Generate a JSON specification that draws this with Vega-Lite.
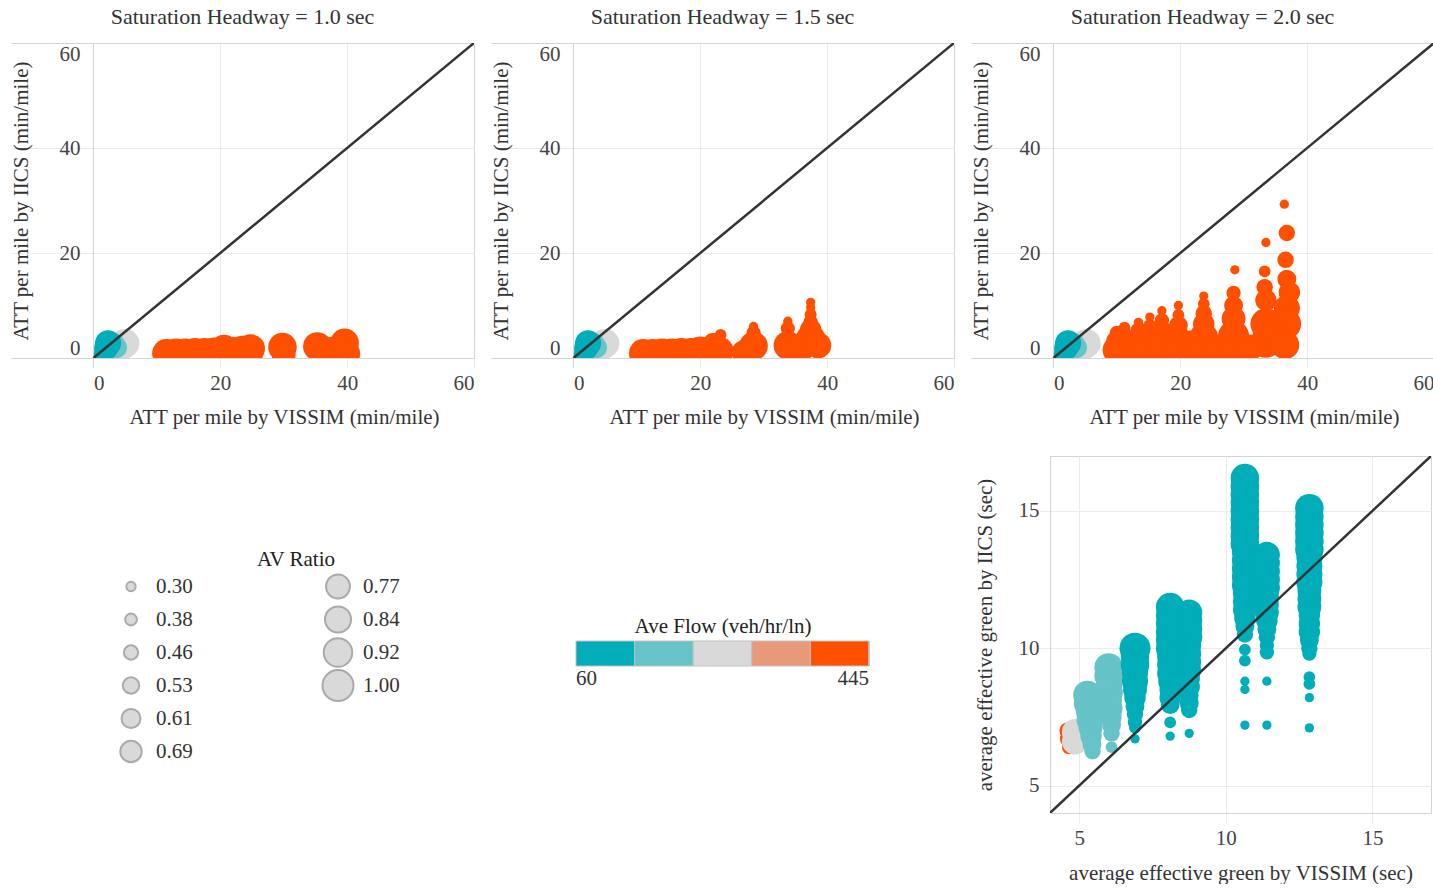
{
"$schema": "https://vega.github.io/schema/vega-lite/v6.json",
"padding": {"left": 10, "top": 6, "right": 4, "bottom": 0},
"background": "white",
"datasets": {
"att": [
{"h":"1.0","vissim":4.6,"iics":2.2,"av":0.84,"flow":250},
{"h":"1.0","vissim":5.0,"iics":2.8,"av":0.92,"flow":250},
{"h":"1.0","vissim":3.1,"iics":2.5,"av":0.77,"flow":170},
{"h":"1.0","vissim":3.6,"iics":2.0,"av":0.69,"flow":170},
{"h":"1.0","vissim":2.3,"iics":2.8,"av":0.84,"flow":100},
{"h":"1.0","vissim":2.0,"iics":1.9,"av":0.77,"flow":100},
{"h":"1.0","vissim":1.6,"iics":1.1,"av":0.61,"flow":100},
{"h":"1.0","vissim":1.2,"iics":0.6,"av":0.46,"flow":100},
{"h":"1.0","vissim":11.5,"iics":0.9,"av":0.92,"flow":420},
{"h":"1.0","vissim":13.0,"iics":1.0,"av":0.92,"flow":420},
{"h":"1.0","vissim":14.5,"iics":1.0,"av":0.92,"flow":420},
{"h":"1.0","vissim":16.0,"iics":1.1,"av":0.92,"flow":420},
{"h":"1.0","vissim":17.5,"iics":1.1,"av":0.92,"flow":420},
{"h":"1.0","vissim":19.0,"iics":1.2,"av":0.92,"flow":420},
{"h":"1.0","vissim":20.6,"iics":1.7,"av":0.92,"flow":420},
{"h":"1.0","vissim":22.0,"iics":1.3,"av":0.92,"flow":420},
{"h":"1.0","vissim":23.5,"iics":1.5,"av":0.92,"flow":420},
{"h":"1.0","vissim":24.8,"iics":1.8,"av":0.92,"flow":420},
{"h":"1.0","vissim":29.8,"iics":2.1,"av":0.92,"flow":420},
{"h":"1.0","vissim":35.3,"iics":2.2,"av":0.92,"flow":420},
{"h":"1.0","vissim":37.5,"iics":1.5,"av":0.84,"flow":420},
{"h":"1.0","vissim":39.6,"iics":2.9,"av":0.92,"flow":420},
{"h":"1.0","vissim":12.0,"iics":0.3,"av":0.61,"flow":420},
{"h":"1.0","vissim":18.0,"iics":0.4,"av":0.69,"flow":420},
{"h":"1.0","vissim":25.0,"iics":0.5,"av":0.69,"flow":420},
{"h":"1.0","vissim":30.0,"iics":0.6,"av":0.77,"flow":420},
{"h":"1.0","vissim":36.0,"iics":0.6,"av":0.77,"flow":420},
{"h":"1.0","vissim":40.0,"iics":0.8,"av":0.84,"flow":420},
{"h":"1.5","vissim":4.6,"iics":2.2,"av":0.84,"flow":250},
{"h":"1.5","vissim":5.0,"iics":2.8,"av":0.92,"flow":250},
{"h":"1.5","vissim":3.1,"iics":2.5,"av":0.77,"flow":170},
{"h":"1.5","vissim":3.6,"iics":2.0,"av":0.69,"flow":170},
{"h":"1.5","vissim":2.3,"iics":2.8,"av":0.84,"flow":100},
{"h":"1.5","vissim":2.0,"iics":1.9,"av":0.77,"flow":100},
{"h":"1.5","vissim":1.6,"iics":1.1,"av":0.61,"flow":100},
{"h":"1.5","vissim":1.2,"iics":0.6,"av":0.46,"flow":100},
{"h":"1.5","vissim":11.0,"iics":0.9,"av":0.92,"flow":420},
{"h":"1.5","vissim":12.5,"iics":0.9,"av":0.92,"flow":420},
{"h":"1.5","vissim":14.0,"iics":1.0,"av":0.92,"flow":420},
{"h":"1.5","vissim":15.5,"iics":1.0,"av":0.92,"flow":420},
{"h":"1.5","vissim":17.0,"iics":1.1,"av":0.92,"flow":420},
{"h":"1.5","vissim":18.5,"iics":1.1,"av":0.92,"flow":420},
{"h":"1.5","vissim":20.0,"iics":1.4,"av":0.92,"flow":420},
{"h":"1.5","vissim":21.5,"iics":1.2,"av":0.92,"flow":420},
{"h":"1.5","vissim":23.0,"iics":1.3,"av":0.92,"flow":420},
{"h":"1.5","vissim":23.2,"iics":4.4,"av":0.38,"flow":420},
{"h":"1.5","vissim":22.0,"iics":3.0,"av":0.61,"flow":420},
{"h":"1.5","vissim":28.4,"iics":6.0,"av":0.3,"flow":420},
{"h":"1.5","vissim":28.4,"iics":4.8,"av":0.46,"flow":420},
{"h":"1.5","vissim":28.4,"iics":2.3,"av":0.92,"flow":420},
{"h":"1.5","vissim":27.0,"iics":1.0,"av":0.84,"flow":420},
{"h":"1.5","vissim":33.8,"iics":7.0,"av":0.3,"flow":420},
{"h":"1.5","vissim":33.8,"iics":5.6,"av":0.46,"flow":420},
{"h":"1.5","vissim":33.8,"iics":2.4,"av":0.92,"flow":420},
{"h":"1.5","vissim":37.4,"iics":10.6,"av":0.3,"flow":420},
{"h":"1.5","vissim":37.4,"iics":9.6,"av":0.3,"flow":420},
{"h":"1.5","vissim":37.4,"iics":8.3,"av":0.38,"flow":420},
{"h":"1.5","vissim":37.4,"iics":6.9,"av":0.46,"flow":420},
{"h":"1.5","vissim":37.4,"iics":5.4,"av":0.69,"flow":420},
{"h":"1.5","vissim":37.4,"iics":3.8,"av":0.92,"flow":420},
{"h":"1.5","vissim":35.8,"iics":2.0,"av":0.92,"flow":420},
{"h":"1.5","vissim":38.6,"iics":2.4,"av":0.84,"flow":420},
{"h":"2.0","vissim":4.8,"iics":2.2,"av":0.84,"flow":250},
{"h":"2.0","vissim":5.2,"iics":2.8,"av":0.92,"flow":250},
{"h":"2.0","vissim":3.1,"iics":2.5,"av":0.77,"flow":170},
{"h":"2.0","vissim":3.6,"iics":2.0,"av":0.69,"flow":170},
{"h":"2.0","vissim":2.3,"iics":2.8,"av":0.84,"flow":100},
{"h":"2.0","vissim":2.0,"iics":1.9,"av":0.77,"flow":100},
{"h":"2.0","vissim":1.6,"iics":1.1,"av":0.61,"flow":100},
{"h":"2.0","vissim":1.2,"iics":0.6,"av":0.46,"flow":100},
{"h":"2.0","vissim":10.0,"iics":4.8,"av":0.46,"flow":420},
{"h":"2.0","vissim":10.0,"iics":3.2,"av":0.69,"flow":420},
{"h":"2.0","vissim":10.0,"iics":1.5,"av":0.92,"flow":420},
{"h":"2.0","vissim":11.2,"iics":5.8,"av":0.38,"flow":420},
{"h":"2.0","vissim":11.2,"iics":4.0,"av":0.61,"flow":420},
{"h":"2.0","vissim":11.2,"iics":2.0,"av":0.92,"flow":420},
{"h":"2.0","vissim":13.4,"iics":6.8,"av":0.3,"flow":420},
{"h":"2.0","vissim":13.4,"iics":5.2,"av":0.53,"flow":420},
{"h":"2.0","vissim":13.4,"iics":3.2,"av":0.77,"flow":420},
{"h":"2.0","vissim":13.4,"iics":1.5,"av":0.92,"flow":420},
{"h":"2.0","vissim":15.2,"iics":7.8,"av":0.3,"flow":420},
{"h":"2.0","vissim":15.2,"iics":6.0,"av":0.46,"flow":420},
{"h":"2.0","vissim":15.2,"iics":4.0,"av":0.69,"flow":420},
{"h":"2.0","vissim":15.2,"iics":2.0,"av":0.92,"flow":420},
{"h":"2.0","vissim":17.1,"iics":9.0,"av":0.3,"flow":420},
{"h":"2.0","vissim":17.1,"iics":7.2,"av":0.46,"flow":420},
{"h":"2.0","vissim":17.1,"iics":5.0,"av":0.69,"flow":420},
{"h":"2.0","vissim":17.1,"iics":2.5,"av":0.92,"flow":420},
{"h":"2.0","vissim":19.7,"iics":10.0,"av":0.3,"flow":420},
{"h":"2.0","vissim":19.7,"iics":8.2,"av":0.38,"flow":420},
{"h":"2.0","vissim":19.7,"iics":6.2,"av":0.61,"flow":420},
{"h":"2.0","vissim":19.7,"iics":3.5,"av":0.84,"flow":420},
{"h":"2.0","vissim":19.7,"iics":1.5,"av":0.92,"flow":420},
{"h":"2.0","vissim":21.7,"iics":2.5,"av":0.92,"flow":420},
{"h":"2.0","vissim":23.7,"iics":11.8,"av":0.3,"flow":420},
{"h":"2.0","vissim":23.7,"iics":10.3,"av":0.38,"flow":420},
{"h":"2.0","vissim":23.7,"iics":8.5,"av":0.53,"flow":420},
{"h":"2.0","vissim":23.7,"iics":6.5,"av":0.69,"flow":420},
{"h":"2.0","vissim":23.7,"iics":4.0,"av":0.92,"flow":420},
{"h":"2.0","vissim":23.7,"iics":1.5,"av":0.92,"flow":420},
{"h":"2.0","vissim":26.0,"iics":2.0,"av":0.84,"flow":420},
{"h":"2.0","vissim":28.6,"iics":16.8,"av":0.3,"flow":420},
{"h":"2.0","vissim":28.4,"iics":12.4,"av":0.46,"flow":420},
{"h":"2.0","vissim":28.4,"iics":10.0,"av":0.61,"flow":420},
{"h":"2.0","vissim":28.4,"iics":7.5,"av":0.77,"flow":420},
{"h":"2.0","vissim":28.4,"iics":4.2,"av":1.0,"flow":420},
{"h":"2.0","vissim":28.4,"iics":1.5,"av":0.92,"flow":420},
{"h":"2.0","vissim":31.0,"iics":2.0,"av":0.84,"flow":420},
{"h":"2.0","vissim":33.5,"iics":22.0,"av":0.3,"flow":420},
{"h":"2.0","vissim":33.3,"iics":16.5,"av":0.38,"flow":420},
{"h":"2.0","vissim":33.3,"iics":13.5,"av":0.53,"flow":420},
{"h":"2.0","vissim":33.5,"iics":11.0,"av":0.69,"flow":420},
{"h":"2.0","vissim":33.5,"iics":6.5,"av":1.0,"flow":420},
{"h":"2.0","vissim":33.5,"iics":3.0,"av":1.0,"flow":420},
{"h":"2.0","vissim":36.4,"iics":29.3,"av":0.3,"flow":420},
{"h":"2.0","vissim":36.8,"iics":23.8,"av":0.53,"flow":420},
{"h":"2.0","vissim":36.6,"iics":18.7,"av":0.53,"flow":420},
{"h":"2.0","vissim":36.8,"iics":15.0,"av":0.61,"flow":420},
{"h":"2.0","vissim":37.2,"iics":12.5,"av":0.69,"flow":420},
{"h":"2.0","vissim":36.8,"iics":9.5,"av":0.84,"flow":420},
{"h":"2.0","vissim":36.6,"iics":6.5,"av":1.0,"flow":420},
{"h":"2.0","vissim":35.0,"iics":4.0,"av":1.0,"flow":420},
{"h":"2.0","vissim":36.5,"iics":2.5,"av":0.92,"flow":420}
],
"green": [
{"vissim":4.6,"iics":7.0,"av":0.53,"flow":420},
{"vissim":4.62,"iics":6.7,"av":0.53,"flow":420},
{"vissim":4.65,"iics":6.4,"av":0.46,"flow":420},
{"vissim":4.85,"iics":6.95,"av":0.84,"flow":250},
{"vissim":4.85,"iics":6.6,"av":0.84,"flow":250},
{"vissim":4.9,"iics":6.8,"av":0.77,"flow":250},
{"vissim":5.28,"iics":8.3,"av":0.92,"flow":170},
{"vissim":5.3,"iics":8.0,"av":0.92,"flow":170},
{"vissim":5.33,"iics":7.7,"av":0.84,"flow":170},
{"vissim":5.35,"iics":7.4,"av":0.84,"flow":170},
{"vissim":5.38,"iics":7.1,"av":0.77,"flow":170},
{"vissim":5.4,"iics":6.8,"av":0.69,"flow":170},
{"vissim":5.43,"iics":6.5,"av":0.61,"flow":170},
{"vissim":5.45,"iics":6.25,"av":0.53,"flow":170},
{"vissim":6.0,"iics":9.3,"av":0.92,"flow":170},
{"vissim":6.0,"iics":9.0,"av":0.92,"flow":170},
{"vissim":6.02,"iics":8.7,"av":0.84,"flow":170},
{"vissim":6.04,"iics":8.4,"av":0.84,"flow":170},
{"vissim":6.05,"iics":8.1,"av":0.77,"flow":170},
{"vissim":6.07,"iics":7.8,"av":0.77,"flow":170},
{"vissim":6.08,"iics":7.5,"av":0.69,"flow":170},
{"vissim":6.1,"iics":7.2,"av":0.61,"flow":170},
{"vissim":6.1,"iics":6.9,"av":0.53,"flow":170},
{"vissim":6.1,"iics":6.4,"av":0.38,"flow":170},
{"vissim":6.9,"iics":10.0,"av":1.0,"flow":100},
{"vissim":6.9,"iics":9.7,"av":0.92,"flow":100},
{"vissim":6.9,"iics":9.4,"av":0.92,"flow":100},
{"vissim":6.9,"iics":9.1,"av":0.84,"flow":100},
{"vissim":6.9,"iics":8.8,"av":0.84,"flow":100},
{"vissim":6.9,"iics":8.5,"av":0.77,"flow":100},
{"vissim":6.9,"iics":8.2,"av":0.69,"flow":100},
{"vissim":6.9,"iics":7.9,"av":0.61,"flow":100},
{"vissim":6.9,"iics":7.6,"av":0.53,"flow":100},
{"vissim":6.9,"iics":7.3,"av":0.46,"flow":100},
{"vissim":6.9,"iics":7.1,"av":0.38,"flow":100},
{"vissim":6.9,"iics":6.7,"av":0.3,"flow":100},
{"vissim":8.1,"iics":11.5,"av":0.92,"flow":100},
{"vissim":8.1,"iics":11.2,"av":0.92,"flow":100},
{"vissim":8.1,"iics":10.9,"av":0.92,"flow":100},
{"vissim":8.1,"iics":10.6,"av":0.92,"flow":100},
{"vissim":8.1,"iics":10.3,"av":0.92,"flow":100},
{"vissim":8.1,"iics":10.0,"av":0.92,"flow":100},
{"vissim":8.1,"iics":9.7,"av":0.84,"flow":100},
{"vissim":8.1,"iics":9.4,"av":0.84,"flow":100},
{"vissim":8.1,"iics":9.1,"av":0.84,"flow":100},
{"vissim":8.1,"iics":8.8,"av":0.77,"flow":100},
{"vissim":8.1,"iics":8.5,"av":0.69,"flow":100},
{"vissim":8.1,"iics":8.2,"av":0.69,"flow":100},
{"vissim":8.1,"iics":7.95,"av":0.61,"flow":100},
{"vissim":8.1,"iics":7.3,"av":0.38,"flow":100},
{"vissim":8.1,"iics":6.8,"av":0.3,"flow":100},
{"vissim":8.75,"iics":11.3,"av":0.84,"flow":100},
{"vissim":8.75,"iics":11.0,"av":0.84,"flow":100},
{"vissim":8.75,"iics":10.7,"av":0.84,"flow":100},
{"vissim":8.75,"iics":10.4,"av":0.84,"flow":100},
{"vissim":8.75,"iics":10.1,"av":0.77,"flow":100},
{"vissim":8.75,"iics":9.8,"av":0.77,"flow":100},
{"vissim":8.75,"iics":9.5,"av":0.77,"flow":100},
{"vissim":8.75,"iics":9.2,"av":0.77,"flow":100},
{"vissim":8.75,"iics":8.9,"av":0.69,"flow":100},
{"vissim":8.75,"iics":8.6,"av":0.69,"flow":100},
{"vissim":8.75,"iics":8.3,"av":0.61,"flow":100},
{"vissim":8.75,"iics":8.0,"av":0.61,"flow":100},
{"vissim":8.75,"iics":7.75,"av":0.53,"flow":100},
{"vissim":8.75,"iics":6.9,"av":0.3,"flow":100},
{"vissim":10.65,"iics":16.2,"av":0.92,"flow":100},
{"vissim":10.65,"iics":15.9,"av":0.92,"flow":100},
{"vissim":10.65,"iics":15.6,"av":0.92,"flow":100},
{"vissim":10.65,"iics":15.3,"av":0.92,"flow":100},
{"vissim":10.65,"iics":15.0,"av":0.92,"flow":100},
{"vissim":10.65,"iics":14.7,"av":0.92,"flow":100},
{"vissim":10.65,"iics":14.4,"av":0.92,"flow":100},
{"vissim":10.65,"iics":14.1,"av":0.92,"flow":100},
{"vissim":10.65,"iics":13.8,"av":0.92,"flow":100},
{"vissim":10.65,"iics":13.5,"av":0.84,"flow":100},
{"vissim":10.65,"iics":13.2,"av":0.84,"flow":100},
{"vissim":10.65,"iics":12.9,"av":0.84,"flow":100},
{"vissim":10.65,"iics":12.6,"av":0.84,"flow":100},
{"vissim":10.65,"iics":12.3,"av":0.84,"flow":100},
{"vissim":10.65,"iics":12.0,"av":0.77,"flow":100},
{"vissim":10.65,"iics":11.7,"av":0.77,"flow":100},
{"vissim":10.65,"iics":11.4,"av":0.77,"flow":100},
{"vissim":10.65,"iics":11.1,"av":0.69,"flow":100},
{"vissim":10.65,"iics":10.8,"av":0.61,"flow":100},
{"vissim":10.65,"iics":10.5,"av":0.53,"flow":100},
{"vissim":10.65,"iics":9.95,"av":0.38,"flow":100},
{"vissim":10.65,"iics":9.55,"av":0.38,"flow":100},
{"vissim":10.65,"iics":8.8,"av":0.3,"flow":100},
{"vissim":10.65,"iics":8.5,"av":0.3,"flow":100},
{"vissim":10.65,"iics":7.2,"av":0.3,"flow":100},
{"vissim":11.4,"iics":13.4,"av":0.84,"flow":100},
{"vissim":11.4,"iics":13.1,"av":0.84,"flow":100},
{"vissim":11.4,"iics":12.8,"av":0.84,"flow":100},
{"vissim":11.4,"iics":12.5,"av":0.84,"flow":100},
{"vissim":11.4,"iics":12.2,"av":0.84,"flow":100},
{"vissim":11.4,"iics":11.9,"av":0.77,"flow":100},
{"vissim":11.4,"iics":11.6,"av":0.77,"flow":100},
{"vissim":11.4,"iics":11.3,"av":0.77,"flow":100},
{"vissim":11.4,"iics":11.0,"av":0.69,"flow":100},
{"vissim":11.4,"iics":10.7,"av":0.61,"flow":100},
{"vissim":11.4,"iics":10.4,"av":0.53,"flow":100},
{"vissim":11.4,"iics":10.1,"av":0.46,"flow":100},
{"vissim":11.4,"iics":9.85,"av":0.46,"flow":100},
{"vissim":11.4,"iics":8.8,"av":0.3,"flow":100},
{"vissim":11.4,"iics":7.2,"av":0.3,"flow":100},
{"vissim":12.85,"iics":15.1,"av":0.92,"flow":100},
{"vissim":12.85,"iics":14.8,"av":0.92,"flow":100},
{"vissim":12.85,"iics":14.5,"av":0.92,"flow":100},
{"vissim":12.85,"iics":14.2,"av":0.92,"flow":100},
{"vissim":12.85,"iics":13.9,"av":0.92,"flow":100},
{"vissim":12.85,"iics":13.6,"av":0.92,"flow":100},
{"vissim":12.85,"iics":13.3,"av":0.84,"flow":100},
{"vissim":12.85,"iics":13.0,"av":0.84,"flow":100},
{"vissim":12.85,"iics":12.7,"av":0.84,"flow":100},
{"vissim":12.85,"iics":12.4,"av":0.84,"flow":100},
{"vissim":12.85,"iics":12.1,"av":0.77,"flow":100},
{"vissim":12.85,"iics":11.8,"av":0.77,"flow":100},
{"vissim":12.85,"iics":11.5,"av":0.77,"flow":100},
{"vissim":12.85,"iics":11.2,"av":0.69,"flow":100},
{"vissim":12.85,"iics":10.9,"av":0.69,"flow":100},
{"vissim":12.85,"iics":10.6,"av":0.69,"flow":100},
{"vissim":12.85,"iics":10.3,"av":0.61,"flow":100},
{"vissim":12.85,"iics":10.0,"av":0.53,"flow":100},
{"vissim":12.85,"iics":9.8,"av":0.46,"flow":100},
{"vissim":12.85,"iics":8.95,"av":0.38,"flow":100},
{"vissim":12.85,"iics":8.7,"av":0.38,"flow":100},
{"vissim":12.85,"iics":8.2,"av":0.3,"flow":100},
{"vissim":12.85,"iics":7.1,"av":0.3,"flow":100}
],
"d1": [{"vissim":0,"iics":0},{"vissim":60,"iics":60}],
"d2": [{"vissim":4,"iics":4},{"vissim":17,"iics":17}]
},
"vconcat": [
{"hconcat": [
{"width": 463, "height": 315, "title": {"text": "Saturation Headway = 1.0 sec", "offset": 14},
 "layer": [
 {"data": {"name": "att"}, "transform": [{"filter": "datum.h == '1.0'"}],
  "mark": {"type": "circle", "opacity": 1, "clip": true},
  "encoding": {
   "x": {"field": "vissim", "type": "quantitative", "scale": {"domain": [-13, 60], "nice": false, "zero": false},
    "axis": {"title": "ATT per mile by VISSIM (min/mile)", "values": [0,20,40,60], "grid": true, "gridColor": {"condition": {"test": "datum.value == 60", "value": "#d4d4d4"}, "value": "#ebebeb"}, "tickSize": 10, "tickColor": {"condition": {"test": "datum.value == 0", "value": "#d4d4d4"}, "value": "#ebebeb"}, "labelPadding": 4, "labelFlush": 90, "titlePadding": 13, "titleX": 273}},
   "y": {"field": "iics", "type": "quantitative", "scale": {"domain": [0, 60], "nice": false, "zero": false},
    "axis": {"title": "ATT per mile by IICS (min/mile)", "values": [0,20,40,60], "grid": true, "gridColor": {"condition": {"test": "datum.value == 60", "value": "#d4d4d4"}, "value": "#ebebeb"}, "ticks": false, "tickSize": 0, "offset": -82, "labelPadding": 13, "labelFlush": true, "titlePadding": 28}},
   "color": {"field": "flow", "type": "quantitative", "scale": {"type": "quantize", "domain": [60, 445], "nice": false, "zero": false, "range": ["#00adb9", "#66c3c8", "#d9d9d9", "#e8997a", "#ff4f00"]},
    "legend": {"type": "gradient", "title": "Ave Flow (veh/hr/ln)", "values": [60, 137, 214, 291, 368, 445], "orient": "none", "direction": "horizontal", "legendX": 565, "legendY": 573, "gradientLength": 293, "gradientThickness": 25, "gradientStrokeColor": "#c0c0c0", "gradientStrokeWidth": 1, "titleAnchor": "middle", "titlePadding": 4, "labelExpr": "datum.value == 60 || datum.value == 445 ? format(datum.value, 'd') : ''", "labelOverlap": false}},
   "size": {"field": "av", "type": "quantitative", "scale": {"type": "pow", "exponent": 2, "domain": [0, 1], "range": [0, 962], "zero": true},
    "legend": {"title": "\u00a0\u00a0\u00a0\u00a0\u00a0AV Ratio", "values": [0.30,0.38,0.46,0.53,0.61,0.69,0.77,0.84,0.92,1.00,0], "columns": 2, "orient": "none", "legendX": 103, "legendY": 506, "format": ".2f", "labelExpr": "datum.value == 0 ? '' : datum.label", "clipHeight": 33, "rowPadding": 0, "columnPadding": 128, "labelOffset": 8, "symbolType": "circle", "symbolFillColor": "#d9d9d9", "symbolStrokeColor": "#aaaaaa", "symbolStrokeWidth": 2, "titleAnchor": "middle", "titleAlign": "left", "titlePadding": 0}}
  }},
 {"data": {"name": "d1"}, "mark": {"type": "line", "color": "#333333", "strokeWidth": 2.5, "clip": true},
  "encoding": {"x": {"field": "vissim", "type": "quantitative"}, "y": {"field": "iics", "type": "quantitative"}}}
 ]},
{"width": 463, "height": 315, "title": {"text": "Saturation Headway = 1.5 sec", "offset": 14},
 "layer": [
 {"data": {"name": "att"}, "transform": [{"filter": "datum.h == '1.5'"}],
  "mark": {"type": "circle", "opacity": 1, "clip": true},
  "encoding": {
   "x": {"field": "vissim", "type": "quantitative", "scale": {"domain": [-13, 60], "nice": false, "zero": false},
    "axis": {"title": "ATT per mile by VISSIM (min/mile)", "values": [0,20,40,60], "grid": true, "gridColor": {"condition": {"test": "datum.value == 60", "value": "#d4d4d4"}, "value": "#ebebeb"}, "tickSize": 10, "tickColor": {"condition": {"test": "datum.value == 0", "value": "#d4d4d4"}, "value": "#ebebeb"}, "labelPadding": 4, "labelFlush": 90, "titlePadding": 13, "titleX": 273}},
   "y": {"field": "iics", "type": "quantitative", "scale": {"domain": [0, 60], "nice": false, "zero": false},
    "axis": {"title": "ATT per mile by IICS (min/mile)", "values": [0,20,40,60], "grid": true, "gridColor": {"condition": {"test": "datum.value == 60", "value": "#d4d4d4"}, "value": "#ebebeb"}, "ticks": false, "tickSize": 0, "offset": -82, "labelPadding": 13, "labelFlush": true, "titlePadding": 28}},
   "color": {"field": "flow", "type": "quantitative", "scale": {"type": "quantize", "domain": [60, 445], "nice": false, "zero": false, "range": ["#00adb9", "#66c3c8", "#d9d9d9", "#e8997a", "#ff4f00"]}},
   "size": {"field": "av", "type": "quantitative", "scale": {"type": "pow", "exponent": 2, "domain": [0, 1], "range": [0, 962], "zero": true}}
  }},
 {"data": {"name": "d1"}, "mark": {"type": "line", "color": "#333333", "strokeWidth": 2.5, "clip": true},
  "encoding": {"x": {"field": "vissim", "type": "quantitative"}, "y": {"field": "iics", "type": "quantitative"}}}
 ]},
{"width": 463, "height": 315, "title": {"text": "Saturation Headway = 2.0 sec", "offset": 14},
 "layer": [
 {"data": {"name": "att"}, "transform": [{"filter": "datum.h == '2.0'"}],
  "mark": {"type": "circle", "opacity": 1, "clip": true},
  "encoding": {
   "x": {"field": "vissim", "type": "quantitative", "scale": {"domain": [-13, 60], "nice": false, "zero": false},
    "axis": {"title": "ATT per mile by VISSIM (min/mile)", "values": [0,20,40,60], "grid": true, "gridColor": {"condition": {"test": "datum.value == 60", "value": "#d4d4d4"}, "value": "#ebebeb"}, "tickSize": 10, "tickColor": {"condition": {"test": "datum.value == 0", "value": "#d4d4d4"}, "value": "#ebebeb"}, "labelPadding": 4, "labelFlush": 90, "titlePadding": 13, "titleX": 273}},
   "y": {"field": "iics", "type": "quantitative", "scale": {"domain": [0, 60], "nice": false, "zero": false},
    "axis": {"title": "ATT per mile by IICS (min/mile)", "values": [0,20,40,60], "grid": true, "gridColor": {"condition": {"test": "datum.value == 60", "value": "#d4d4d4"}, "value": "#ebebeb"}, "ticks": false, "tickSize": 0, "offset": -82, "labelPadding": 13, "labelFlush": true, "titlePadding": 28}},
   "color": {"field": "flow", "type": "quantitative", "scale": {"type": "quantize", "domain": [60, 445], "nice": false, "zero": false, "range": ["#00adb9", "#66c3c8", "#d9d9d9", "#e8997a", "#ff4f00"]}},
   "size": {"field": "av", "type": "quantitative", "scale": {"type": "pow", "exponent": 2, "domain": [0, 1], "range": [0, 962], "zero": true}}
  }},
 {"data": {"name": "d1"}, "mark": {"type": "line", "color": "#333333", "strokeWidth": 2.5, "clip": true},
  "encoding": {"x": {"field": "vissim", "type": "quantitative"}, "y": {"field": "iics", "type": "quantitative"}}}
 ]}
], "spacing": 15},
{"hconcat": [
{"width": 962, "height": 20, "data": {"values": [{}]}, "mark": {"type": "text", "text": ""}},
{"width": 381, "height": 357, "view": {"stroke": "#d4d4d4"},
 "layer": [
 {"data": {"name": "green"},
  "mark": {"type": "circle", "opacity": 1, "clip": true},
  "encoding": {
   "x": {"field": "vissim", "type": "quantitative", "scale": {"domain": [4, 17], "nice": false, "zero": false},
    "axis": {"title": "average effective green by VISSIM (sec)", "values": [5,10,15], "grid": true, "tickSize": 10, "labelPadding": 4, "titlePadding": 14}},
   "y": {"field": "iics", "type": "quantitative", "scale": {"domain": [4, 17], "nice": false, "zero": false},
    "axis": {"title": "average effective green by IICS (sec)", "values": [5,10,15], "grid": true, "tickSize": 10, "labelPadding": 1, "titlePadding": 23}},
   "color": {"field": "flow", "type": "quantitative", "scale": {"type": "quantize", "domain": [60, 445], "nice": false, "zero": false, "range": ["#00adb9", "#66c3c8", "#d9d9d9", "#e8997a", "#ff4f00"]}},
   "size": {"field": "av", "type": "quantitative", "scale": {"type": "pow", "exponent": 2, "domain": [0, 1], "range": [0, 962], "zero": true}}
  }},
 {"data": {"name": "d2"}, "mark": {"type": "line", "color": "#333333", "strokeWidth": 2.5, "clip": true},
  "encoding": {"x": {"field": "vissim", "type": "quantitative"}, "y": {"field": "iics", "type": "quantitative"}}}
 ]}
], "spacing": 0}
],
"spacing": 28,
"config": {
 "font": "Liberation Serif",
 "view": {"stroke": null},
 "axis": {"labelFont": "Liberation Serif", "titleFont": "Liberation Serif", "labelFontSize": 21, "titleFontSize": 21, "titleFontWeight": "normal", "labelColor": "#444444", "titleColor": "#333333", "gridColor": "#ebebeb", "domainColor": "#d4d4d4", "tickColor": "#ebebeb"},
 "legend": {"labelFont": "Liberation Serif", "titleFont": "Liberation Serif", "labelFontSize": 21, "titleFontSize": 21, "titleFontWeight": "normal", "labelColor": "#333333", "titleColor": "#222222"},
 "title": {"font": "Liberation Serif", "fontSize": 22, "fontWeight": "normal", "color": "#333333"}
}
}
